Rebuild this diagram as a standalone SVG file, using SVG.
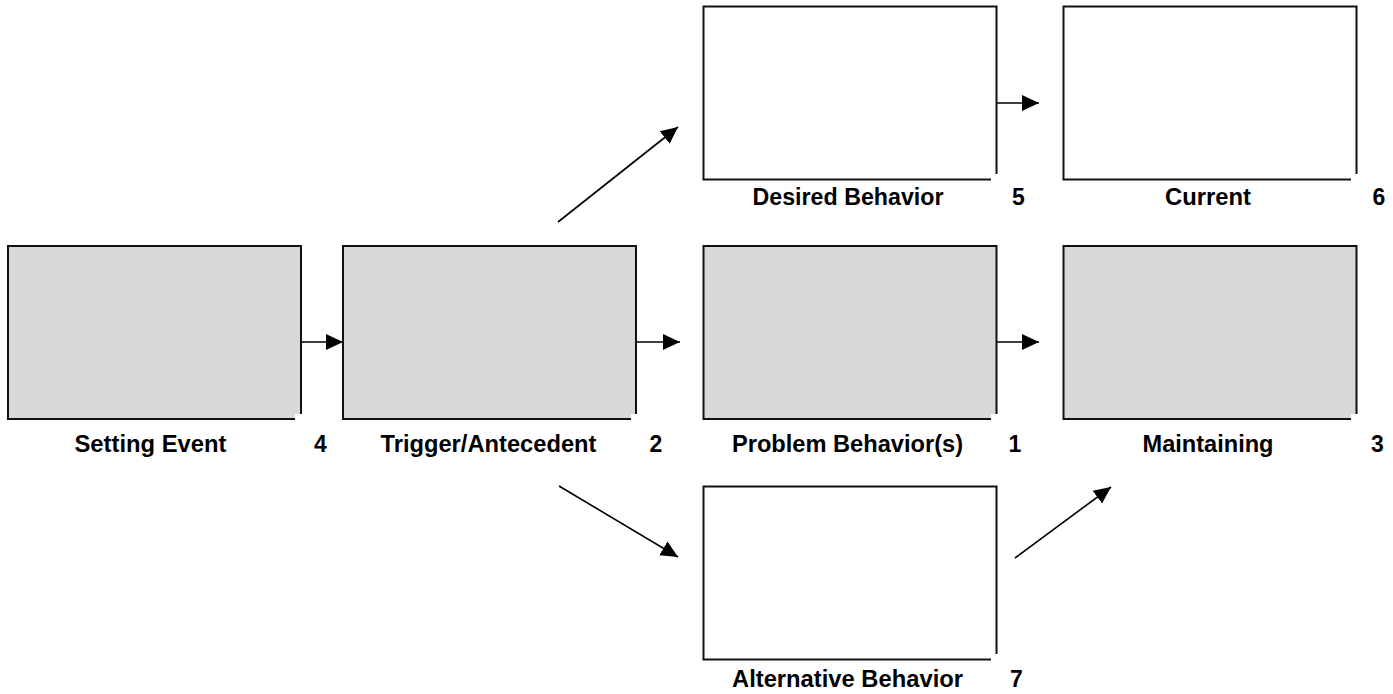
<svg xmlns="http://www.w3.org/2000/svg" width="1393" height="694" viewBox="0 0 1393 694">
<style>
.box{stroke:#111;stroke-width:2}
.g{fill:#d8d8d8}
.w{fill:#fff}
.notch{fill:#fff;stroke:none}
.lbl{font-family:"Liberation Sans",Arial,sans-serif;font-weight:bold;font-size:23px;fill:#000;text-anchor:middle}
.conn{stroke:#000;stroke-width:1.6;fill:none;marker-end:url(#ah)}
</style>
<defs>
<marker id="ah" markerUnits="userSpaceOnUse" markerWidth="18" markerHeight="18" refX="17" refY="9" orient="auto" viewBox="0 0 18 18">
<path d="M0,1 L17,9 L0,17 z" fill="#000"/>
</marker>
</defs>
<rect width="1393" height="694" fill="#fff"/>
<g id="connectors">
<line class="conn" x1="301" y1="342" x2="343" y2="342"/>
<line class="conn" x1="637" y1="342" x2="680" y2="342"/>
<line class="conn" x1="997" y1="342" x2="1039" y2="342"/>
<line class="conn" x1="997" y1="103" x2="1039" y2="103"/>
<line class="conn" x1="558" y1="222" x2="678" y2="127"/>
<line class="conn" x1="559" y1="486" x2="678" y2="557"/>
<line class="conn" x1="1015" y1="558" x2="1111" y2="487"/>
</g>
<g id="setting-event">
<rect class="box g" x="8" y="246" width="293" height="173"/>
<rect class="notch" x="295" y="414" width="10" height="8"/>
<text class="lbl" x="150.5" y="452" textLength="152" lengthAdjust="spacingAndGlyphs">Setting Event</text>
<text class="lbl" x="320.5" y="452">4</text>
</g>
<g id="trigger">
<rect class="box g" x="343" y="246" width="293" height="173"/>
<rect class="notch" x="631" y="414" width="10" height="8"/>
<text class="lbl" x="488.5" y="452" textLength="216" lengthAdjust="spacingAndGlyphs">Trigger/Antecedent</text>
<text class="lbl" x="656" y="452">2</text>
</g>
<g id="problem-behavior">
<rect class="box g" x="703.5" y="246" width="293" height="173"/>
<rect class="notch" x="991" y="414" width="10" height="8"/>
<text class="lbl" x="847.5" y="452" textLength="231" lengthAdjust="spacingAndGlyphs">Problem Behavior(s)</text>
<text class="lbl" x="1015" y="452">1</text>
</g>
<g id="maintaining">
<rect class="box g" x="1063.5" y="246" width="293" height="173"/>
<rect class="notch" x="1351" y="414" width="10" height="8"/>
<text class="lbl" x="1208" y="452" textLength="131" lengthAdjust="spacingAndGlyphs">Maintaining</text>
<text class="lbl" x="1377.5" y="452">3</text>
</g>
<g id="desired-behavior">
<rect class="box w" x="703.5" y="6.5" width="293" height="173"/>
<rect class="notch" x="991" y="174" width="10" height="8"/>
<text class="lbl" x="848" y="205" textLength="191" lengthAdjust="spacingAndGlyphs">Desired Behavior</text>
<text class="lbl" x="1018.5" y="205">5</text>
</g>
<g id="current">
<rect class="box w" x="1063.5" y="6.5" width="293" height="173"/>
<rect class="notch" x="1351" y="174" width="10" height="8"/>
<text class="lbl" x="1208" y="205" textLength="86" lengthAdjust="spacingAndGlyphs">Current</text>
<text class="lbl" x="1379" y="205">6</text>
</g>
<g id="alternative-behavior">
<rect class="box w" x="703.5" y="486.5" width="293" height="173"/>
<rect class="notch" x="991" y="654" width="10" height="8"/>
<text class="lbl" x="847.5" y="687" textLength="231" lengthAdjust="spacingAndGlyphs">Alternative Behavior</text>
<text class="lbl" x="1016.5" y="687">7</text>
</g>
</svg>
